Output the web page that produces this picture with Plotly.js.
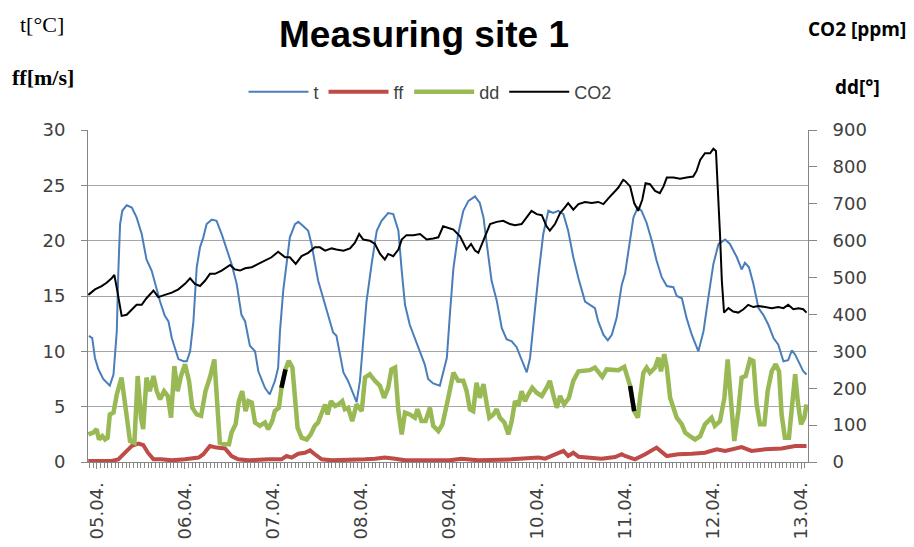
<!DOCTYPE html>
<html>
<head>
<meta charset="utf-8">
<script src="https://cdn.plot.ly/plotly-3.0.1.min.js"></script>
<style>html,body{margin:0;padding:0;background:#fff;}#chart{width:914px;height:547px;}</style>
</head>
<body>
<div id="chart"></div>
<script>
// x values are hours since 05.04. 00:00
const tickHours = [0, 24, 48, 72, 96, 120, 144, 168, 192];
const tickLabels = ['05.04.', '06.04.', '07.04.', '08.04.', '09.04.', '10.04.', '11.04.', '12.04.', '13.04.'];

const tHours = [-2.2,-1.3,-0.55,0.36,1.7,3.5,4.5,5.4,5.8,6.3,6.9,8.1,9.5,10.8,12.2,13.1,13.5,14.9,15.8,17.2,18.5,19.5,20.4,21.3,22.2,23.6,24.5,25.4,26.3,27.2,28.1,29,29.9,31.3,32.6,34,35.4,36.7,38.1,39.4,40.4,41.7,43.1,44,45.8,47.1,
 48.5,49.4,49.9,50.8,51.7,52.6,54,54.9,56.3,57.6,58.5,59.4,60.3,61.7,63.1,64.4,65.3,66.3,67.2,68.5,69.9,70.8,71.7,72.6,73.5,74.9,76.3,77.6,79.4,80.8,82.2,83.1,84,85.3,86.7,88.1,89.4,90.3,91.7,93.5,
 95.4,96.3,97.2,98.5,99.9,101.3,103.1,104.4,105.4,106.3,107.6,109,110.4,111.7,113.1,114.4,115.8,117.2,118.1,119,120.4,121.7,123.1,124.4,125.8,127.2,128.5,129.9,131.3,133.1,134.9,135.8,136.7,138.1,139.3,140.4,141.7,143.1,
 144,145.4,146.3,147.5,148.5,149.9,151.3,152.6,154,155.4,157.2,158.1,159.5,160.8,162.2,164,165.4,166.7,168.1,169.5,171.3,172.6,174.5,175.8,176.7,177.8,179,180.4,181.7,183.1,184.5,185.8,187.2,188.5,189.5,190.4,191.3,192.6,193.5];
const tValues = [11.4,11.2,9.4,8.4,7.5,6.9,7.9,11.8,17,21.5,22.7,23.2,23,22.1,20.6,19.1,18.3,17.3,16.1,14.5,13.2,12.7,11.2,10.3,9.3,9.1,9.1,10,12.7,17.6,19.4,20.3,21.5,21.9,21.8,20.6,19.2,17.9,16.1,13.3,12.7,10.5,10,8.2,6.7,6.1,
 7.3,8.5,11.8,15.5,17.9,20.3,21.5,21.7,21.3,20.9,19.7,18.2,16.4,14.8,13.3,11.7,11.4,9.7,8.1,7.3,6.1,5.4,7.3,11.2,14.5,17.9,20.9,21.8,22.5,22.4,20.9,17.3,14.2,12.4,11.2,9.9,8.8,7.5,7.1,6.9,
 9.4,13.6,17.5,20.6,22.7,23.6,24.0,23.4,22.1,19.7,16.4,14.6,12.1,11.1,10.9,10.4,9.2,8.1,9.4,12.4,16.9,20.6,22.7,22.5,22.7,22.4,20.9,18.5,16.6,14.5,14.1,13.9,12.7,11.5,11.0,11.5,13.0,16.0,
 17.0,20.3,22.1,23.0,22.7,21.6,20.0,18.2,16.7,15.9,15.8,15.0,14.8,13.0,11.5,10.0,11.8,14.8,17.9,19.7,20.1,19.7,18.5,17.4,18.0,17.6,16.1,13.9,13.3,12.4,11.2,10.6,9.1,9.2,10.1,9.7,9.1,8.2,7.9];

const ffHours = [-2.4,4,5.8,7.6,9.5,11.3,12.6,13.9,15.4,17.6,20.4,24,27.7,29,30.8,32.6,34.9,36.7,38.5,41.3,44,46.7,
 50.3,51.7,53.1,54.9,56.7,58.1,59.4,61.3,64,69.4,73.1,75.8,78.5,81.3,84,91.3,96.2,
 99.4,104,113.1,120.4,122.2,124,127.2,128.5,129.9,131.3,134,137.6,141.3,143.1,
 144,146.7,149.5,152.6,155.4,158.5,162.2,165.8,169,171.3,175.8,178.5,182.2,186.7,190.4,193.5];
const ffValues = [0.1,0.1,0.24,0.84,1.45,1.66,1.54,0.84,0.24,0.24,0.15,0.24,0.4,0.7,1.45,1.3,1.23,0.54,0.24,0.15,0.24,0.24,
 0.24,0.54,0.4,0.75,0.84,1.05,0.7,0.24,0.15,0.15,0.24,0.3,0.4,0.3,0.15,0.15,0.15,
 0.3,0.15,0.24,0.4,0.3,0.54,1.0,0.54,0.84,0.48,0.4,0.3,0.45,0.7,
 0.54,0.24,0.7,1.3,0.54,0.7,0.75,0.84,1.15,1.0,1.35,1.0,1.15,1.23,1.45,1.45];

const ddHours = [-2.36,-1.0,-0.1,0.55,1.45,2.2,2.9,3.5,4.5,5.4,6.7,7.8,9.0,10.2,11.1,12.0,12.6,13.5,14.4,15.4,16.3,17.2,18.3,19.3,20.2,21.1,22.0,22.9,24.0,25.1,26.0,27.2,28.4,29.6,30.8,32.0,32.6,33.5,34.9,36.0,36.7,37.8,38.7,39.6,40.5,41.3,42.2,43.1,44.4,45.8,
 46.7,47.8,48.5,49.6,50.3,51.4,52.3,53.3,54.0,54.7,55.8,57.2,58.3,59.4,60.3,61.4,62.2,62.9,63.8,64.9,65.8,66.9,67.6,68.5,69.6,70.8,72.2,73.1,74.4,75.8,77.2,78.3,79.4,80.3,81.3,82.2,83.1,84.0,85.3,86.7,87.4,88.5,89.6,90.8,91.7,93.1,94.2,
 95.8,97.2,98.5,99.9,100.8,101.7,102.6,103.5,104.4,105.4,106.3,107,108.1,109,109.9,111.1,112.2,113.1,114,114.9,115.8,116.7,117.6,118.7,119.9,121.3,122.6,123.5,124.4,125.4,126.3,127.4,128.7,129.9,131.3,133.1,134.4,135.8,136.7,137.8,139,140.4,142.2,143.8,
 144.9,145.4,146.5,147.5,148.1,149,149.9,150.8,152.2,153.1,153.8,154.7,155.4,156.3,157.2,158.1,159.5,160.4,161.7,163.1,164.5,165.8,166.7,167.6,168.5,169.9,171.1,172,172.9,173.8,174.9,175.8,176.9,178.1,179,179.9,180.8,182,182.9,184,185.1,186,186.7,187.6,188.7,189.5,190.4,191.1,192,192.9,193.5];
const ddValues = [75,80,89,61,70,61,66,129,134,183,229,147,57,52,233,120,89,229,192,233,192,170,192,179,120,260,192,233,265,220,147,129,125,192,229,278,174,52,48,48,80,102,165,192,138,165,161,107,98,107,
 89,111,138,147,201,251,274,256,174,93,66,61,75,98,107,138,156,129,165,152,156,165,143,147,111,156,138,229,238,220,206,174,201,251,256,138,75,134,129,120,143,111,111,147,98,84,102,
 174,242,220,220,192,143,138,215,174,211,156,120,129,143,120,107,75,111,165,152,192,165,183,201,188,179,201,220,183,147,179,156,174,220,246,246,249,256,246,231,251,249,249,258,
 220,206,138,120,174,242,256,242,256,283,246,292,256,174,147,120,102,80,70,61,70,102,111,120,98,111,174,278,165,57,138,229,233,278,274,156,102,102,192,246,265,246,129,66,66,147,238,165,102,120,156];

// short stretches of the dd line drawn in black in the original
const ddBlack1Hours = [50.3, 51.4];
const ddBlack1Values = [201, 251];
const ddBlack2Hours = [145.4, 146.5];
const ddBlack2Values = [206, 138];

const co2Hours = [-2.36,-0.55,1.27,2.63,4.0,4.73,5.36,6.27,6.73,8.1,9.45,10.8,12.2,13.5,15.4,16.7,18.5,20.4,22.2,24.0,25.4,26.7,28.1,29.5,30.8,32.2,34.0,36.3,37.6,39.0,40.4,42.2,44.0,46.7,
 47.6,49.4,51.3,52.6,54.2,55.8,57.6,59.4,60.8,62.2,64,65.3,67.2,69,70.3,71.5,72.6,74.4,75.8,77.2,78.5,79.4,80.8,82.2,83.1,84.4,86.3,88.1,89.9,91.7,93.1,94.4,
 97.2,99,100.8,102,103.1,104,105.4,107.2,109,110.8,112.6,114,115.8,117.2,118.5,119.9,121.3,122.6,123.5,124.9,126.3,127.6,128.5,129.9,131.3,133.1,134.9,136.7,138.1,139.4,140.8,142.2,143.5,
 144,145.4,146.5,147.6,148.7,149.6,150.8,152.2,153.5,154.5,155.4,157.2,159,160.8,162.6,163.5,164.5,165.8,167.2,168.1,168.8,169.9,170.4,171,172.2,173.5,174.9,176.3,177.6,179,180.4,182.2,184,185.8,187.2,188.5,189.9,191.3,192.6,193.5];
const co2Values = [453,468,477,486,498,507,474,426,396,399,414,426,426,444,465,447,453,459,468,483,498,483,477,492,510,510,519,534,522,519,525,528,537,549,
 555,570,555,555,537,558,567,582,582,573,579,576,573,579,594,618,603,600,591,564,549,564,558,576,603,615,615,618,603,606,609,639,
 630,612,576,591,573,567,600,645,651,654,645,642,645,663,681,672,669,639,627,645,675,690,702,684,699,705,702,705,699,714,729,744,765,
 762,747,702,681,711,756,753,735,729,747,771,771,768,771,774,789,819,837,837,849,843,618,492,405,417,408,405,414,426,420,423,420,417,420,417,426,414,417,414,405];

const gridCol = '#a6a6a6';
const axisCol = '#868686';
const tickFont = {family: 'DejaVu Sans, Verdana, sans-serif', size: 18, color: '#404040'};

const traces = [
  {name: 't', x: tHours, y: tValues, type: 'scatter', mode: 'lines', line: {color: '#4a7ebb', width: 2}},
  {name: 'ff', x: ffHours, y: ffValues, type: 'scatter', mode: 'lines', line: {color: '#be4b48', width: 4}},
  {name: 'dd', x: ddHours, y: ddValues, type: 'scatter', mode: 'lines', yaxis: 'y2', line: {color: '#98b954', width: 4.5}},
  {name: 'dd-b1', x: ddBlack1Hours, y: ddBlack1Values, type: 'scatter', mode: 'lines', yaxis: 'y2', showlegend: false, line: {color: '#000000', width: 4.5}},
  {name: 'dd-b2', x: ddBlack2Hours, y: ddBlack2Values, type: 'scatter', mode: 'lines', yaxis: 'y2', showlegend: false, line: {color: '#000000', width: 4.5}},
  {name: 'CO2', x: co2Hours, y: co2Values, type: 'scatter', mode: 'lines', yaxis: 'y2', line: {color: '#000000', width: 2}}
];

function px(x) { return (x - 88) / 720; }
function py(y) { return (462 - y) / 332; }

const layout = {
  width: 914, height: 547,
  margin: {l: 88, r: 106, t: 130, b: 85},
  paper_bgcolor: '#ffffff', plot_bgcolor: '#ffffff',
  showlegend: true,
  title: {
    text: 'Measuring site 1',
    font: {family: 'Liberation Sans, Arial, sans-serif', size: 37, weight: 'bold', color: '#000000'},
    xref: 'container', yref: 'container', x: 424 / 914, y: 1 - 34 / 547, xanchor: 'center', yanchor: 'middle'
  },
  legend: {
    orientation: 'h', x: px(430), xanchor: 'center', y: py(92), yanchor: 'middle',
    font: {family: 'Liberation Sans, Arial, sans-serif', size: 18, color: '#404040'},
    itemwidth: 60, traceorder: 'normal', bgcolor: 'rgba(0,0,0,0)'
  },
  xaxis: {
    range: [-2.45, 193.9], tickmode: 'array', tickvals: tickHours, ticktext: tickLabels,
    tickangle: -90, tickfont: tickFont, showgrid: false, zeroline: false,
    showline: true, linecolor: axisCol, linewidth: 1,
    ticks: 'outside', ticklen: 6, tickcolor: axisCol, ticklabelstandoff: 6,
    minor: {dtick: 1, tick0: 0, ticks: 'outside', ticklen: 5, tickcolor: axisCol, showgrid: false}
  },
  yaxis: {
    range: [0, 30], dtick: 5, tick0: 0, tickfont: tickFont,
    showgrid: true, gridcolor: gridCol, gridwidth: 1, zeroline: false,
    showline: true, linecolor: axisCol, linewidth: 1,
    ticks: 'outside', ticklen: 6, tickcolor: axisCol, ticklabelstandoff: 12
  },
  yaxis2: {
    range: [0, 900], dtick: 100, tick0: 0, overlaying: 'y', side: 'right', tickfont: tickFont,
    showgrid: false, zeroline: false, showline: true, linecolor: axisCol, linewidth: 1,
    ticks: 'outside', ticklen: 8, tickcolor: axisCol, ticklabelstandoff: 12
  },
  annotations: [
    {text: 't[°C]', xref: 'paper', yref: 'paper', x: px(42), y: py(24), showarrow: false, xanchor: 'center', yanchor: 'middle',
     font: {family: 'Liberation Serif, Times New Roman, serif', size: 22, color: '#000000'}},
    {text: '<b>ff[m/s]</b>', xref: 'paper', yref: 'paper', x: px(43), y: py(77), showarrow: false, xanchor: 'center', yanchor: 'middle',
     font: {family: 'Liberation Serif, Times New Roman, serif', size: 22, color: '#000000'}},
    {text: '<b>CO2 [ppm]</b>', xref: 'paper', yref: 'paper', x: px(857), y: py(29), showarrow: false, xanchor: 'center', yanchor: 'middle',
     font: {family: 'Open Sans, sans-serif', size: 19, color: '#000000'}},
    {text: '<b>dd[°]</b>', xref: 'paper', yref: 'paper', x: px(857), y: py(87), showarrow: false, xanchor: 'center', yanchor: 'middle',
     font: {family: 'Open Sans, sans-serif', size: 19, color: '#000000'}}
  ]
};

Plotly.newPlot('chart', traces, layout, {displayModeBar: false, staticPlot: true});
</script>
</body>
</html>
